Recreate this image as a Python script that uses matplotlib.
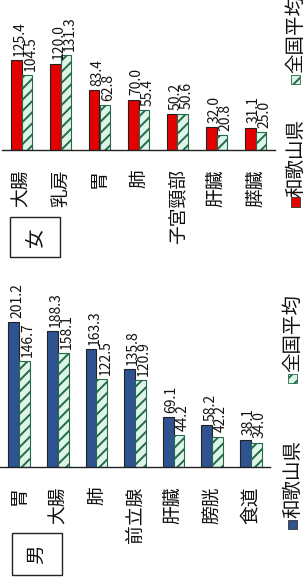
import matplotlib
matplotlib.use("Agg")
import matplotlib.pyplot as plt
from matplotlib.patches import Rectangle
import numpy as np

plt.rcParams['font.family'] = ['Noto Sans CJK JP', 'DejaVu Sans']
plt.rcParams['hatch.linewidth'] = 1.4

# ---- data ----
female_cats = ["大腸", "乳房", "胃", "肺", "子宮頸部", "肝臓", "膵臓"]
female_wakayama = [125.4, 120.0, 83.4, 70.0, 50.2, 32.0, 31.1]
female_national = [104.5, 131.3, 62.8, 55.4, 50.6, 20.8, 25.0]

male_cats = ["胃", "大腸", "肺", "前立腺", "肝臓", "膀胱", "食道"]
male_wakayama = [201.2, 188.3, 163.3, 135.8, 69.1, 58.2, 38.1]
male_national = [146.7, 158.1, 122.5, 120.9, 44.2, 42.2, 34.0]

legend_labels = ["和歌山県", "全国平均"]
panel_labels = ["女", "男"]

# ---- style ----
W, H = 305, 579
DPI = 100
RED = "#E50000"
BLUE = "#2F5391"
HATCH_FACE = "#DDF5E8"
HATCH_EDGE = "#23694A"
TXT = "#111111"

fig = plt.figure(figsize=(W / DPI, H / DPI), dpi=DPI)


def fx(px):
    return px / W


def fy(py):
    return (H - py) / H


SCALE = 0.72  # px per unit
YMAX = 208


def panel(left_px, width_px, base_px, cats, v1, v2, c1):
    height_px = YMAX * SCALE
    ax = fig.add_axes([fx(left_px), fy(base_px), width_px / W, height_px / H])
    x = np.arange(len(cats))
    bw = 0.28
    ax.bar(x - bw / 2, v1, bw, color=c1, edgecolor="#222222", linewidth=0.8)
    ax.bar(x + bw / 2, v2, bw, color=HATCH_FACE, edgecolor=HATCH_EDGE,
           hatch="///", linewidth=0.8)
    for xi, a, b in zip(x, v1, v2):
        ax.annotate(f"{a:.1f}", (xi - bw / 2, a), xytext=(2.5, 3),
                    textcoords="offset points", rotation=90, ha="center",
                    va="bottom", fontsize=10, color=TXT,
                    annotation_clip=False)
        ax.annotate(f"{b:.1f}", (xi + bw / 2, b), xytext=(2.5, 3),
                    textcoords="offset points", rotation=90, ha="center",
                    va="bottom", fontsize=10, color=TXT,
                    annotation_clip=False)
    ax.set_xlim(-0.5, len(cats) - 0.5)
    ax.set_ylim(0, YMAX)
    ax.set_xticks(x)
    ax.set_xticklabels(cats, rotation=90, fontsize=13.5, color=TXT,
                       va="top", ha="center")
    ax.tick_params(axis="x", length=0, pad=14)
    ax.set_yticks([])
    for s in ["top", "right", "left"]:
        ax.spines[s].set_visible(False)
    ax.spines["bottom"].set_color("#222222")
    ax.spines["bottom"].set_linewidth(1.0)
    ax.patch.set_alpha(0)
    return ax


panel(2, 273, 150, female_cats, female_wakayama, female_national, RED)
panel(0, 270, 467, male_cats, male_wakayama, male_national, BLUE)


def legend(xc, y_sq1, y_txt1, y_sq2, y_txt2, c1):
    s = 9
    fig.patches.append(Rectangle((fx(xc - s / 2), fy(y_sq1 + s / 2)), s / W, s / H,
                                 transform=fig.transFigure, facecolor=c1,
                                 edgecolor="#333333", linewidth=0.6))
    fig.patches.append(Rectangle((fx(xc - s / 2), fy(y_sq2 + s / 2)), s / W, s / H,
                                 transform=fig.transFigure, facecolor=HATCH_FACE,
                                 edgecolor=HATCH_EDGE, hatch="///", linewidth=0.6))
    fig.text(fx(xc + 1), fy(y_txt1), legend_labels[0], rotation=90,
             ha="center", va="bottom", fontsize=14, color=TXT)
    fig.text(fx(xc + 1), fy(y_txt2), legend_labels[1], rotation=90,
             ha="center", va="bottom", fontsize=14, color=TXT)


legend(295, 202, 197, 79, 73, RED)
legend(292, 524, 518, 378, 372, BLUE)


def box(x0, y0, x1, y1, label):
    fig.patches.append(Rectangle((fx(x0), fy(y1)), (x1 - x0) / W, (y1 - y0) / H,
                                 transform=fig.transFigure, facecolor="white",
                                 edgecolor="#222222", linewidth=1.0))
    fig.text(fx((x0 + x1) / 2), fy((y0 + y1) / 2), label, rotation=90,
             ha="center", va="center", fontsize=14, color=TXT)


box(10, 217, 60, 257, panel_labels[0])
box(12, 533, 62, 575, panel_labels[1])

fig.savefig("out.png", dpi=DPI, facecolor="white")
